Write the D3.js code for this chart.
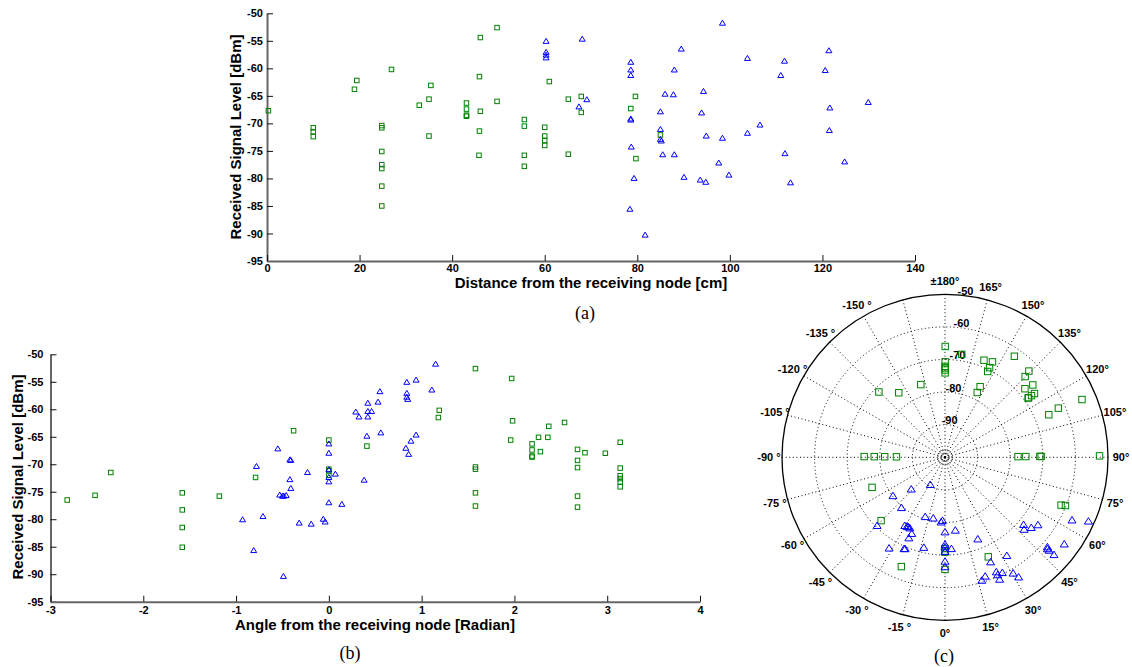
<!DOCTYPE html>
<html><head><meta charset="utf-8">
<script src="https://cdn.jsdelivr.net/npm/d3@7"></script>
<style>body{margin:0;background:#fff}svg{display:block}</style>
</head><body><svg id="c" width="1132" height="667"></svg>
<script>
// ---------- data (a): distance vs RSS ----------
const distGreen=[0.3,10,10,10,18.9,19.4,26.9,24.8,24.8,24.8,24.8,24.8,24.8,24.8,32.9,35,35.4,35,43.1,43.1,43.1,43.1,46.1,45.9,46.1,45.9,45.8,49.7,49.7,55.6,55.6,55.6,55.6,60,60,60,60,61,65.1,65.1,67.9,67.9,79.6,78.6,79.7,85.0];
const rssDistGreen=[-67.7,-70.8,-71.5,-72.4,-63.8,-62.2,-60.2,-70.4,-70.8,-75.1,-77.5,-78.2,-81.4,-85.0,-66.7,-65.6,-63.1,-72.3,-66.3,-67.4,-68.5,-68.7,-54.4,-61.5,-67.8,-71.4,-75.8,-52.6,-66.0,-69.3,-70.5,-75.8,-77.8,-70.7,-72.3,-73.1,-74.0,-62.4,-65.6,-75.6,-65.1,-68.0,-65.1,-67.3,-76.4,-72.1];
const distBlue=[60.3,60.3,60.3,60.3,68.1,69.1,67.4,78.6,78.6,78.6,78.6,78.6,78.7,79.3,78.4,81.7,85.0,85.0,85.0,85.2,85.5,86.0,87.8,88.0,88.0,89.5,90.1,93.6,94.8,93.9,94.3,94.9,97.6,98.4,98.4,99.8,103.8,103.8,106.5,111.0,111.8,111.9,113.1,120.6,121.4,121.6,121.5,124.8,129.9];
const rssDistBlue=[-55.1,-57.1,-57.6,-58.1,-54.7,-65.7,-67.0,-58.9,-60.3,-61.3,-69.2,-69.4,-74.3,-80.0,-85.6,-90.3,-67.9,-71.1,-72.9,-73.2,-75.7,-64.7,-64.8,-60.3,-75.7,-56.5,-79.8,-80.3,-80.7,-68.1,-64.2,-72.3,-77.2,-51.8,-72.7,-79.4,-58.2,-71.8,-70.3,-61.3,-58.7,-75.5,-80.8,-60.4,-56.8,-67.2,-71.3,-77.0,-66.2];

// ---------- data (b)/(c): angle [rad] vs RSS ----------
const angleGreen=[-2.82,-2.52,-2.35,-1.58,-1.58,-1.58,-1.58,-1.18,-0.79,-0.38,0,0,0,0,0.41,1.19,1.18,1.58,1.58,1.58,1.58,1.58,1.97,1.98,1.96,2.19,2.19,2.19,2.19,2.26,2.28,2.36,2.37,2.54,2.68,2.68,2.68,2.68,2.68,2.76,2.98,3.14,3.14,3.14,3.14,3.14,3.14];
const rssAngleGreen=[-76.5,-75.65,-71.5,-75.2,-78.3,-81.5,-85.1,-75.8,-72.4,-63.9,-65.6,-70.9,-71.2,-72.0,-66.7,-60.2,-61.5,-52.6,-70.5,-70.9,-75.2,-77.6,-54.4,-62.1,-65.6,-66.3,-67.4,-68.5,-68.7,-65.1,-67.7,-65.1,-63.1,-62.4,-67.3,-69.3,-70.6,-75.8,-77.8,-67.9,-68.0,-66.0,-70.7,-72.1,-72.6,-73.2,-74.1];
const angleBlue=[-0.93,-0.81,-0.78,-0.71,-0.55,-0.53,-0.50,-0.485,-0.46,-0.49,-0.42,-0.41,-0.42,-0.41,-0.32,-0.23,-0.19,-0.06,-0.04,0,0,0,0,0,0,0.07,0.14,0.29,0.325,0.42,0.42,0.46,0.42,0.41,0.38,0.53,0.55,0.56,0.84,0.84,0.84,0.85,0.83,0.885,0.86,0.94,0.94,1.11,1.15];
const rssAngleBlue=[-80.1,-85.7,-70.4,-79.5,-67.2,-75.6,-75.8,-75.8,-75.7,-90.4,-69.2,-69.3,-72.8,-74.4,-80.7,-71.5,-80.9,-80.0,-80.5,-66.3,-68.0,-71.0,-72.4,-73.2,-77.0,-71.8,-77.3,-60.5,-61.4,-58.9,-60.4,-60.4,-61.4,-64.9,-72.9,-58.7,-56.8,-64.3,-55.1,-57.1,-57.8,-58.2,-67.1,-65.8,-68.2,-64.7,-54.7,-56.5,-51.8];

// ---------- ticks / labels ----------
const rssTicks=[-50,-55,-60,-65,-70,-75,-80,-85,-90,-95];
const distTicks=[0,20,40,60,80,100,120,140];
const angleTicks=[-3,-2,-1,0,1,2,3,4];
const polarRings=[-90,-80,-70,-60];
const polarRingLabels=[-90,-80,-70,-60,-50];
const polarSpokeDeg=[0,15,30,45,60,75,90,105,120,135,150,165,180,-165,-150,-135,-120,-105,-90,-75,-60,-45,-30,-15];
const polarLabelDeg=[0,15,30,45,60,75,90,105,120,135,150,165,180,-150,-135,-120,-105,-90,-75,-60,-45,-30,-15];
const titleA="Distance from the receiving node [cm]";
const titleB="Angle from the receiving node [Radian]";
const titleY="Received Signal Level [dBm]";

const GREEN="#008000", BLUE="#0000ff";
const svg=d3.select("#c");
const FONT="Arial, 'Liberation Sans', sans-serif";

function square(g,xs,ys,X,Y,s,col){
  g.selectAll(null).data(d3.range(xs.length)).enter().append("rect")
   .attr("x",i=>X(xs[i])-s/2).attr("y",i=>Y(ys[i])-s/2)
   .attr("width",s).attr("height",s)
   .attr("fill","none").attr("stroke",col).attr("stroke-width",1);
}
function triPath(x,y,w,h){return `M${x},${y-h*0.6}L${x+w/2},${y+h*0.4}L${x-w/2},${y+h*0.4}Z`;}
function tri(g,xs,ys,X,Y,w,h,col){
  g.selectAll(null).data(d3.range(xs.length)).enter().append("path")
   .attr("d",i=>triPath(X(xs[i]),Y(ys[i]),w,h))
   .attr("fill","none").attr("stroke",col).attr("stroke-width",1);
}

function scatter(cfg){
  const x=d3.scaleLinear().domain(cfg.xd).range(cfg.xr);
  const y=d3.scaleLinear().domain([-95,-50]).range(cfg.yr);
  const g=svg.append("g");
  const ya=g.append("g").attr("transform",`translate(${cfg.xr[0]},0)`)
    .call(d3.axisLeft(y).tickValues(rssTicks).tickFormat(d=>String(d)).tickSizeInner(-6).tickSizeOuter(0).tickPadding(cfg.ypad));
  const xa=g.append("g").attr("transform",`translate(0,${cfg.yr[0]})`)
    .call(d3.axisBottom(x).tickValues(cfg.xt).tickFormat(d=>String(d)).tickSizeInner(-6).tickSizeOuter(0).tickPadding(cfg.xpad));
  [ya,xa].forEach(a=>{
    a.select(".domain").attr("stroke","#666").attr("stroke-width",2);
    a.selectAll(".tick line").attr("stroke","#111").attr("stroke-width",1);
    a.selectAll("text").attr("font-family",FONT).attr("font-weight","bold").attr("font-size",11).attr("fill","#000");
  });
  g.append("text").attr("transform",`translate(${cfg.ytx},${cfg.yty}) rotate(-90)`)
    .attr("text-anchor","middle").attr("font-family",FONT).attr("font-weight","bold")
    .attr("font-size",15).text(titleY);
  g.append("text").attr("x",cfg.xtx).attr("y",cfg.xty).attr("text-anchor","middle")
    .attr("font-family",FONT).attr("font-weight","bold").attr("font-size",15).text(cfg.title);
  square(g,cfg.gx,cfg.gy,x,y,4.5,GREEN);
  tri(g,cfg.bx,cfg.by,x,y,6,5,BLUE);
}

scatter({xd:[0,140],xr:[267,915],yr:[261,13.3],xt:distTicks,ypad:4,xpad:3,
  ytx:241,yty:137,xtx:591,xty:288,title:titleA,
  gx:distGreen,gy:rssDistGreen,bx:distBlue,by:rssDistBlue});
scatter({xd:[-3,4],xr:[50.5,700],yr:[601.7,354.3],xt:angleTicks,ypad:7,xpad:5,
  ytx:23,yty:477,xtx:375,xty:630,title:titleB,
  gx:angleGreen,gy:rssAngleGreen,bx:angleBlue,by:rssAngleBlue});

// captions
[["(a)",585,319],["(b)",350,659],["(c)",944,662]].forEach(c=>{
  svg.append("text").attr("x",c[1]).attr("y",c[2]).attr("text-anchor","middle")
   .attr("font-family","'Liberation Serif', 'Times New Roman', serif").attr("font-size",18).text(c[0]);
});

// ---------- polar (c) ----------
const cx=945, cy=457.3, R=163;
const r=d3.scaleLinear().domain([-100,-50]).range([0,R]);
const P=svg.append("g");
const px=(th,v)=>cx+r(v)*Math.sin(th), py=(th,v)=>cy+r(v)*Math.cos(th);
const DOT="1,2.6";
polarSpokeDeg.forEach(a=>{
  const th=a*Math.PI/180;
  P.append("line").attr("x1",cx).attr("y1",cy).attr("x2",px(th,-50)).attr("y2",py(th,-50))
   .attr("stroke","#000").attr("stroke-width",1).attr("stroke-dasharray",DOT);
});
polarRings.forEach(v=>{
  P.append("circle").attr("cx",cx).attr("cy",cy).attr("r",r(v)).attr("fill","none")
   .attr("stroke","#000").attr("stroke-width",1).attr("stroke-dasharray",DOT);
});
[3.3,7].forEach(rr=>P.append("circle").attr("cx",cx).attr("cy",cy).attr("r",rr).attr("fill","none")
   .attr("stroke","#000").attr("stroke-width",1).attr("stroke-dasharray","1,1.5"));
P.append("circle").attr("cx",cx).attr("cy",cy).attr("r",1.2).attr("fill","#000");
P.append("circle").attr("cx",cx).attr("cy",cy).attr("r",r(-50)).attr("fill","none")
   .attr("stroke","#000").attr("stroke-width",1.3);
polarLabelDeg.forEach(a=>{
  const th=a*Math.PI/180;
  const txt=a===180?"\u00b1180\u00b0":(a<0?a+" \u00b0":a+"\u00b0");
  P.append("text").attr("x",cx+176*Math.sin(th)).attr("y",cy+176*Math.cos(th))
   .attr("text-anchor","middle").attr("dominant-baseline","central")
   .attr("font-family",FONT).attr("font-weight","bold").attr("font-size",11).text(txt);
});
polarRingLabels.forEach(v=>{
  const th=173*Math.PI/180, rr=r(v)+5;
  P.append("text").attr("x",cx+rr*Math.sin(th)).attr("y",cy+rr*Math.cos(th))
   .attr("text-anchor","middle").attr("dominant-baseline","central")
   .attr("font-family",FONT).attr("font-weight","bold").attr("font-size",11).text(String(v));
});
// markers
P.selectAll(null).data(d3.range(angleGreen.length)).enter().append("rect")
  .attr("x",i=>px(angleGreen[i],rssAngleGreen[i])-3.2).attr("y",i=>py(angleGreen[i],rssAngleGreen[i])-3.2)
  .attr("width",6.4).attr("height",6.4).attr("fill","none").attr("stroke",GREEN).attr("stroke-width",1);
P.selectAll(null).data(d3.range(angleBlue.length)).enter().append("path")
  .attr("d",i=>triPath(px(angleBlue[i],rssAngleBlue[i]),py(angleBlue[i],rssAngleBlue[i]),8,6.5))
  .attr("fill","none").attr("stroke",BLUE).attr("stroke-width",1);
</script></body></html>
